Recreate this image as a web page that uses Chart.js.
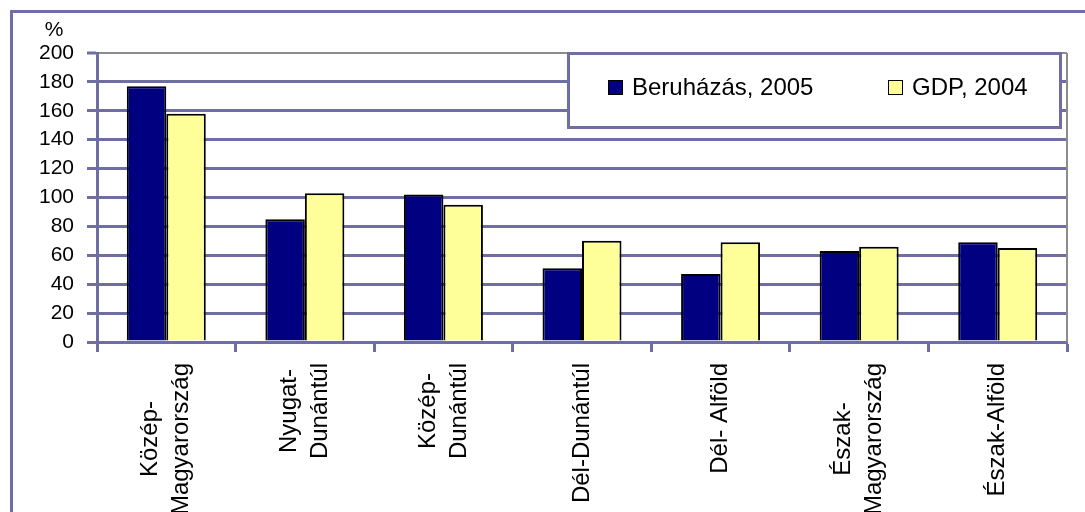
<!DOCTYPE html>
<html>
<head>
<meta charset="utf-8">
<script src="https://cdn.jsdelivr.net/npm/chart.js@4.4.1/dist/chart.umd.min.js"></script>
<style>
  html, body { margin: 0; padding: 0; background: #fff; }
  canvas { display: block; }
</style>
</head>
<body>
<canvas id="chart" width="1085" height="512"></canvas>
<script>
// Data
const regions = [
  ["Közép-", "Magyarország"],
  ["Nyugat-", "Dunántúl"],
  ["Közép-", "Dunántúl"],
  "Dél-Dunántúl",
  "Dél- Alföld",
  ["Észak-", "Magyarország"],
  "Észak-Alföld",
];
const investment2005 = [177, 85, 102, 51, 47, 63, 69];
const gdp2004 = [158, 103, 95, 70, 69, 66, 65];
const seriesNames = ["Beruházás, 2005", "GDP, 2004"];
const yTicks = [0, 20, 40, 60, 80, 100, 120, 140, 160, 180, 200];
const yUnit = "%";

const lineBlue = "#6e6ea4";
const frameGray = "#8c8c8c";
const barColors = ["#000080", "#ffff99"];
const fontFamily = '"Liberation Sans", Arial, sans-serif';

// Outer frame of the picture (only left and top are visible)
const outerFrame = {
  id: "outerFrame",
  beforeDraw(chart) {
    const ctx = chart.ctx;
    ctx.save();
    ctx.strokeStyle = lineBlue;
    ctx.lineWidth = 3;
    ctx.beginPath();
    ctx.moveTo(11.5, 600);
    ctx.lineTo(11.5, 11.5);
    ctx.lineTo(1100, 11.5);
    ctx.stroke();
    ctx.restore();
  },
};

// Gray plot-area border on the right side
const plotBorder = {
  id: "plotBorder",
  beforeDatasetsDraw(chart) {
    const { ctx, chartArea } = chart;
    ctx.save();
    ctx.strokeStyle = frameGray;
    ctx.lineWidth = 2;
    ctx.beginPath();
    ctx.moveTo(chartArea.right, chartArea.top);
    ctx.lineTo(chartArea.right, chartArea.bottom);
    ctx.stroke();
    ctx.restore();
  },
};

// Vertical category labels: lines centred on the category and on each other
const categoryLabels = {
  id: "categoryLabels",
  afterDraw(chart) {
    const { ctx, chartArea } = chart;
    const xScale = chart.scales.x;
    const lineHeight = 31;
    const top = chartArea.bottom + 21;
    ctx.save();
    ctx.font = "24px " + fontFamily;
    ctx.fillStyle = "#000";
    ctx.textAlign = "center";
    ctx.textBaseline = "middle";
    chart.data.labels.forEach((label, i) => {
      const lines = Array.isArray(label) ? label : [label];
      const longest = Math.max(...lines.map((l) => ctx.measureText(l).width));
      const x = xScale.getPixelForValue(i);
      lines.forEach((line, j) => {
        const lx = x + (j - (lines.length - 1) / 2) * lineHeight;
        ctx.save();
        ctx.translate(lx, top + longest / 2);
        ctx.rotate(-Math.PI / 2);
        ctx.fillText(line, 0, 0);
        ctx.restore();
      });
    });
    ctx.restore();
  },
};

// Boxed legend sitting over the gridlines, plus the "%" unit label
const boxedLegend = {
  id: "boxedLegend",
  afterDraw(chart) {
    const ctx = chart.ctx;
    ctx.save();
    ctx.fillStyle = "#fff";
    ctx.fillRect(568, 53, 493, 75);
    ctx.strokeStyle = lineBlue;
    ctx.lineWidth = 3;
    ctx.strokeRect(568.5, 53.5, 492, 74);

    const itemX = [608, 888];
    ctx.font = "24px " + fontFamily;
    ctx.textBaseline = "middle";
    ctx.textAlign = "left";
    chart.data.datasets.forEach((ds, i) => {
      ctx.fillStyle = ds.backgroundColor;
      ctx.fillRect(itemX[i], 80, 15, 15);
      ctx.strokeStyle = "#000";
      ctx.lineWidth = 1;
      ctx.strokeRect(itemX[i] + 0.5, 80.5, 14, 14);
      ctx.fillStyle = "#000";
      ctx.fillText(ds.label, itemX[i] + 24, 88);
    });

    ctx.font = "21px " + fontFamily;
    ctx.textAlign = "center";
    ctx.fillText(yUnit, 54, 30);
    ctx.restore();
  },
};

const ctx = document.getElementById("chart").getContext("2d");
new Chart(ctx, {
  type: "bar",
  data: {
    labels: regions,
    datasets: [
      {
        label: seriesNames[0],
        data: investment2005,
        backgroundColor: barColors[0],
        borderColor: "#000",
        borderWidth: 2,
      },
      {
        label: seriesNames[1],
        data: gdp2004,
        backgroundColor: barColors[1],
        borderColor: "#000",
        borderWidth: 2,
      },
    ],
  },
  options: {
    responsive: false,
    animation: false,
    events: [],
    layout: { padding: { left: 0, right: 18, top: 53, bottom: 0 } },
    datasets: {
      bar: { categoryPercentage: 0.57, barPercentage: 1.0 },
    },
    plugins: {
      legend: { display: false },
      tooltip: { enabled: false },
    },
    scales: {
      x: {
        grid: {
          offset: true,
          drawOnChartArea: false,
          drawTicks: true,
          tickLength: 10,
          tickColor: lineBlue,
          tickWidth: 3,
        },
        border: { color: lineBlue, width: 3 },
        ticks: { display: false },
        afterFit(scale) {
          scale.height = 170;
        },
      },
      y: {
        min: yTicks[0],
        max: yTicks[yTicks.length - 1],
        afterBuildTicks(scale) {
          scale.ticks = yTicks.map((v) => ({ value: v }));
        },
        grid: {
          color: (c) => (c.tick && c.tick.value === 200 ? frameGray : lineBlue),
          lineWidth: (c) => (c.tick && c.tick.value === 200 ? 2 : 3),
          tickLength: 10,
          tickColor: lineBlue,
          tickWidth: 3,
        },
        border: { color: lineBlue, width: 3 },
        ticks: {
          padding: 13,
          color: "#000",
          font: { family: fontFamily, size: 21 },
        },
        afterFit(scale) {
          scale.width = 97;
        },
      },
    },
  },
  plugins: [outerFrame, plotBorder, categoryLabels, boxedLegend],
});
</script>
</body>
</html>
